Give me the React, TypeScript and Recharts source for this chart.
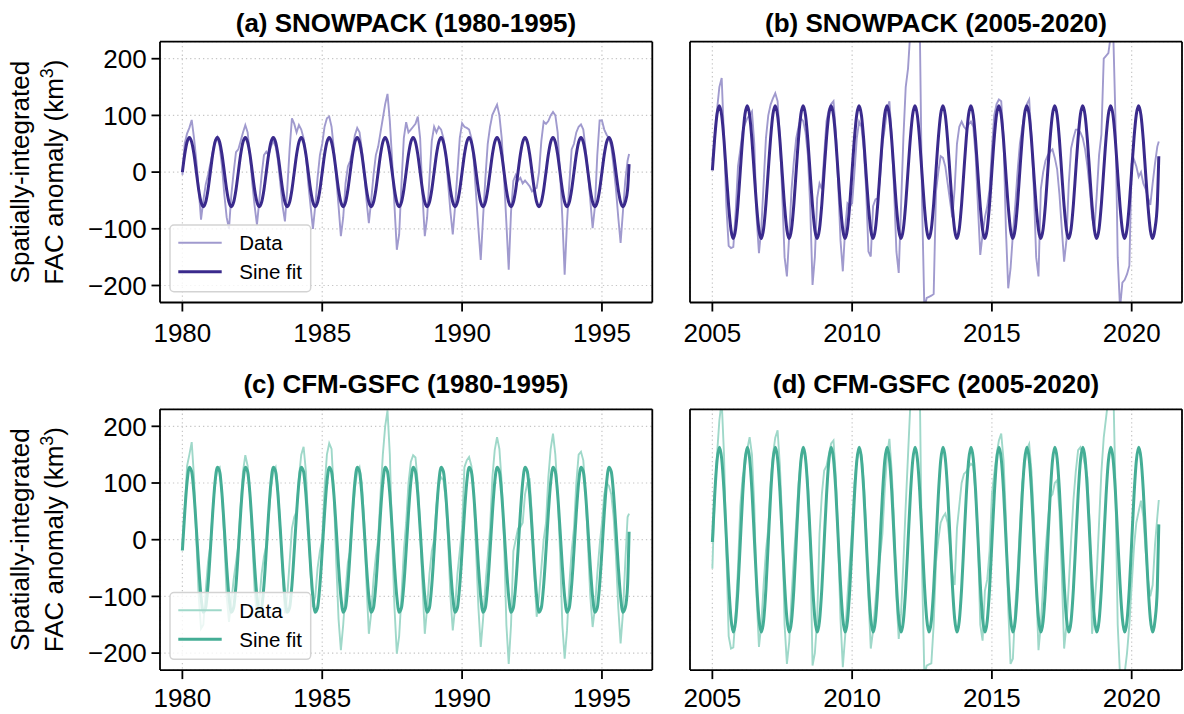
import { CartesianGrid, Line, LineChart, ReferenceLine, XAxis, YAxis } from "recharts";

const FONT = '"Liberation Sans", Arial, Helvetica, sans-serif';

const yTicks = [-200, -100, 0, 100, 200];
const earlyTicks = [1980, 1985, 1990, 1995];
const lateTicks = [2005, 2010, 2015, 2020];

// monthly FAC anomaly (km3), one row per year
const snowpackEarly = [
  [-5, 50, 68, 78, 92, 60, 20, -30, -84, -50, -22, -5],
  [15, 35, 55, 62, 45, 10, -40, -80, -100, -40, 0, 35],
  [40, 55, 70, 83, 70, 30, -20, -60, -93, -50, -5, 30],
  [36, 30, 45, 55, 45, 20, -20, -60, -87, -30, 40, 95],
  [85, 70, 83, 75, 60, 30, -20, -60, -100, -60, -10, 30],
  [50, 80, 95, 98, 80, 40, -10, -60, -113, -80, -20, 10],
  [20, 40, 65, 78, 70, 40, 0, -50, -90, -50, -5, 30],
  [45, 70, 95, 120, 138, 90, 20, -60, -137, -110, -20, 60],
  [88, 70, 75, 80, 85, 98, 60, -40, -113, -80, -10, 55],
  [80, 70, 80, 75, 60, 30, -20, -70, -110, -60, 0, 60],
  [86, 80, 78, 75, 60, 20, -40, -100, -155, -80, -10, 50],
  [80, 101, 110, 119, 100, 60, -10, -90, -172, -70, -15, -5],
  [-15, -10, -20, -15, -20, -25, -34, -30, -28, 0, 55, 89],
  [85, 90, 100, 106, 100, 70, 0, -80, -181, -90, -20, 40],
  [50, 70, 80, 84, 75, 40, 0, -50, -99, -60, 30, 91],
  [91, 75, 66, 60, 45, 10, -30, -80, -125, -70, -15, 20],
];

const snowpackLate = [
  [20, 60, 110, 150, 166, 60, -60, -130, -134, -132, -70, 10],
  [40, 72, 85, 95, 100, 107, 50, -80, -143, -100, -20, 60],
  [100, 119, 130, 139, 125, 60, -40, -150, -184, -110, -30, 20],
  [60, 80, 95, 90, 70, 30, -60, -199, -150, -46, -20, -30],
  [30, 90, 110, 120, 125, 70, -20, -120, -175, -100, -55, -60],
  [-55, 0, 60, 89, 80, 40, -30, -140, -149, -60, -48, -46],
  [-10, 50, 77, 110, 125, 60, -30, -140, -178, -60, 60, 150],
  [183, 250, 280, 300, 300, 270, -50, -240, -222, -220, -218, -215],
  [-34, 0, 28, 25, 10, -20, -50, -80, -30, 50, 80, 89],
  [80, 75, 84, 89, 80, 30, -60, -146, -110, -80, -60, -30],
  [40, 100, 120, 128, 125, 60, -100, -205, -170, -110, -60, 0],
  [50, 78, 100, 120, 128, 60, -30, -150, -184, -30, 0, 20],
  [30, 36, 40, 25, 5, -40, -100, -158, -120, -20, 42, 60],
  [75, 75, 70, 60, 40, 10, -30, -80, -100, -40, 30, 66],
  [200, 205, 210, 240, 260, 100, -150, -240, -195, -190, -180, -165],
  [15, 22, 10, -8, 0, -20, -30, -45, -58, -20, 15, 45],
];

const cfmEarly = [
  [-10, 50, 130, 150, 172, 110, 0, -100, -157, -150, -90, -40],
  [-10, 50, 100, 125, 128, 80, 0, -100, -145, -110, -70, -40],
  [-10, 60, 120, 149, 130, 80, 0, -90, -140, -110, -60, -30],
  [-10, 40, 90, 120, 128, 90, 20, -60, -130, -100, -40, 20],
  [40, 50, 110, 150, 164, 120, 30, -60, -119, -100, -50, -20],
  [0, 90, 150, 170, 160, 80, -40, -140, -195, -150, -90, -40],
  [-20, 40, 90, 120, 128, 100, 30, -80, -166, -130, -70, -30],
  [0, 80, 150, 200, 228, 150, 0, -120, -201, -170, -100, -20],
  [30, 100, 137, 149, 145, 100, 20, -80, -166, -120, -60, -20],
  [0, 60, 100, 110, 105, 70, 0, -100, -160, -120, -60, -20],
  [20, 128, 140, 146, 130, 80, -20, -120, -189, -140, -80, -30],
  [20, 110, 158, 181, 160, 100, 0, -150, -219, -150, -20, 0],
  [20, 22, 30, 80, 100, 105, 40, -60, -136, -100, -50, 0],
  [30, 110, 160, 187, 150, 80, -20, -150, -210, -160, -80, -20],
  [20, 100, 150, 155, 140, 80, -10, -100, -154, -120, -60, -10],
  [30, 80, 100, 95, 80, 40, -30, -120, -183, -130, -40, 40],
];

const cfmLate = [
  [-51, 80, 150, 210, 245, 150, -20, -170, -192, -190, -130, -50],
  [60, 110, 130, 160, 181, 150, 60, -100, -189, -150, -80, -20],
  [20, 100, 150, 180, 193, 130, 30, -150, -219, -180, -100, -30],
  [30, 100, 140, 158, 146, 100, 0, -222, -200, -140, 10, 80],
  [122, 130, 150, 170, 175, 110, 0, -140, -225, -170, -100, -40],
  [20, 100, 140, 158, 150, 100, 20, -100, -192, -160, -110, -60],
  [-30, 10, 90, 150, 178, 120, 30, -100, -175, -130, -40, 60],
  [150, 240, 280, 300, 300, 280, -50, -240, -222, -220, -218, -150],
  [-40, 0, 30, 40, 46, 30, -10, -60, -80, 20, 60, 100],
  [116, 120, 128, 134, 130, 80, 0, -150, -178, -90, -70, -20],
  [80, 116, 150, 175, 187, 140, 40, -120, -219, -210, -120, -60],
  [20, 100, 130, 160, 169, 120, 40, -80, -195, -150, -80, -20],
  [30, 75, 80, 100, 105, 50, -60, -192, -150, -80, 0, 70],
  [120, 158, 163, 150, 130, 110, 20, -166, -120, -60, 30, 120],
  [180, 215, 250, 280, 290, 100, -150, -240, -240, -235, -200, -150],
  [-80, -13, 30, 50, 69, 40, -20, -70, -100, -80, -10, 40],
];

// one year of the fitted sine, month by month
const snowpackEarlyFit = [0, 31, 53, 61, 53, 31, 0, -31, -53, -61, -53, -31];
const snowpackLateFit = [3, 60, 102, 117, 100, 56, -3, -60, -102, -117, -100, -56];
const cfmEarlyFit = [-19, 47, 101, 128, 120, 80, 19, -47, -101, -128, -120, -80];
const cfmLateFit = [-4, 78, 139, 163, 143, 86, 4, -78, -139, -163, -143, -86];

// last sample of each record: [year, data, fit]
const snowpackEarlyEnd = [1995.97, 32, 14];
const snowpackLateEnd = [2020.97, 54, 28];
const cfmEarlyEnd = [1995.97, 46, 14];
const cfmLateEnd = [2020.97, 70, 27];

function buildRows(firstYear: number, years: number[][], fitCycle: number[], end: number[]) {
  const rows: { t: number; data: number; fit: number }[] = [];
  years.forEach((months, i) => {
    months.forEach((v, m) => {
      rows.push({ t: firstYear + i + m / 12, data: v, fit: fitCycle[m] });
    });
  });
  rows.push({ t: end[0], data: end[1], fit: end[2] });
  return rows;
}

const PURPLE = { data: "#a09ace", fit: "#3a2a8c" };
const TEAL = { data: "#9fd8c9", fit: "#44ad95" };

const PLOT_H = 260.8;
const X_AXIS_H = 40;

const fmtY = (v: number) => (v < 0 ? "\u2212" + Math.abs(v) : String(v));

type PanelProps = {
  rows: { t: number; data: number; fit: number }[];
  domain: [number, number];
  ticks: number[];
  box: { left: number; top: number; w: number; h: number };
  plot: { x: number; y: number; w: number };
  yLabels: boolean;
  labelGap: number;
  colors: { data: string; fit: string };
};

function Panel({ rows, domain, ticks, box, plot, yLabels, labelGap, colors }: PanelProps) {
  const top = plot.y - box.top;
  const yWidth = plot.x - box.left;
  const right = box.left + box.w - (plot.x + plot.w);
  const bottom = box.h - top - PLOT_H - X_AXIS_H;
  const tickStyle = { fill: "#000", fontSize: 26, fontFamily: FONT };
  return (
    <div style={{ position: "absolute", left: box.left, top: box.top }}>
      <LineChart width={box.w} height={box.h} data={rows} margin={{ top, right, bottom, left: 0 }}>
        <CartesianGrid stroke="#c6c6c6" strokeWidth={1.2} strokeDasharray="1.3 3" />
        <XAxis
          type="number"
          dataKey="t"
          domain={domain}
          ticks={ticks}
          allowDataOverflow
          height={X_AXIS_H}
          stroke="#000"
          strokeWidth={1.8}
          tickSize={9}
          tickMargin={labelGap}
          tick={tickStyle}
        />
        <YAxis
          type="number"
          domain={[-230, 230]}
          ticks={yTicks}
          allowDataOverflow
          width={yWidth}
          stroke="#000"
          strokeWidth={1.8}
          tickSize={8.5}
          tickMargin={4.8}
          tickLine={yLabels}
          tick={yLabels ? tickStyle : false}
          tickFormatter={fmtY}
        />
        <Line
          type="linear"
          dataKey="data"
          stroke={colors.data}
          strokeWidth={1.9}
          dot={false}
          activeDot={false}
          isAnimationActive={false}
        />
        <Line
          type="monotone"
          dataKey="fit"
          stroke={colors.fit}
          strokeWidth={3}
          dot={false}
          activeDot={false}
          isAnimationActive={false}
        />
        <ReferenceLine y={230} stroke="#000" strokeWidth={1.8} ifOverflow="visible" />
        <ReferenceLine x={domain[1]} stroke="#000" strokeWidth={1.8} ifOverflow="visible" />
      </LineChart>
    </div>
  );
}

function Legend({ dy, colors }: { dy: number; colors: { data: string; fit: string } }) {
  return (
    <g transform={`translate(0, ${dy})`}>
      <rect x={170} y={225} width={140.7} height={66.7} rx={4} fill="#fff" fillOpacity={0.8} stroke="#d3d3d3" strokeWidth={1.5} />
      <line x1={178.3} x2={221.7} y1={242.7} y2={242.7} stroke={colors.data} strokeWidth={1.9} />
      <text x={239.3} y={242.7} dy="0.36em" fontSize={20.5}>Data</text>
      <line x1={178.3} x2={221.7} y1={271.7} y2={271.7} stroke={colors.fit} strokeWidth={3} />
      <text x={239.3} y={271.7} dy="0.36em" fontSize={20.5}>Sine fit</text>
    </g>
  );
}

function YLabel({ cy }: { cy: number }) {
  return (
    <g>
      <text transform={`translate(29, ${cy}) rotate(-90)`} textAnchor="middle" fontSize={26}>
        Spatially-integrated
      </text>
      <text transform={`translate(62.8, ${cy}) rotate(-90)`} textAnchor="middle" fontSize={26}>
        FAC anomaly (km
        <tspan fontSize={18} dy={-10}>3</tspan>
        <tspan dy={10}>)</tspan>
      </text>
    </g>
  );
}

export default function App() {
  const early: [number, number] = [1979.2, 1996.8];
  const late: [number, number] = [2004.2, 2021.8];
  return (
    <div style={{ position: "absolute", left: 0, top: 0, width: 1184, height: 714, background: "#fff", fontFamily: FONT }}>
      <Panel
        rows={buildRows(1980, snowpackEarly, snowpackEarlyFit, snowpackEarlyEnd)}
        domain={early}
        ticks={earlyTicks}
        box={{ left: 0, top: 0, w: 660, h: 360 }}
        plot={{ x: 160, y: 41.7, w: 492.3 }}
        yLabels
        labelGap={12.5}
        colors={PURPLE}
      />
      <Panel
        rows={buildRows(2005, snowpackLate, snowpackLateFit, snowpackLateEnd)}
        domain={late}
        ticks={lateTicks}
        box={{ left: 660, top: 0, w: 524, h: 360 }}
        plot={{ x: 690, y: 41.7, w: 492 }}
        yLabels={false}
        labelGap={12.5}
        colors={PURPLE}
      />
      <Panel
        rows={buildRows(1980, cfmEarly, cfmEarlyFit, cfmEarlyEnd)}
        domain={early}
        ticks={earlyTicks}
        box={{ left: 0, top: 360, w: 660, h: 354 }}
        plot={{ x: 160, y: 409.3, w: 492.3 }}
        yLabels
        labelGap={9.5}
        colors={TEAL}
      />
      <Panel
        rows={buildRows(2005, cfmLate, cfmLateFit, cfmLateEnd)}
        domain={late}
        ticks={lateTicks}
        box={{ left: 660, top: 360, w: 524, h: 354 }}
        plot={{ x: 690, y: 409.3, w: 492 }}
        yLabels={false}
        labelGap={9.5}
        colors={TEAL}
      />
      <svg width={1184} height={714} style={{ position: "absolute", left: 0, top: 0, pointerEvents: "none" }} fontFamily={FONT}>
        <g fontSize={26} fontWeight="bold" textAnchor="middle">
          <text x={406} y={31.5}>(a) SNOWPACK (1980-1995)</text>
          <text x={936} y={31.5}>(b) SNOWPACK (2005-2020)</text>
          <text x={406} y={393}>(c) CFM-GSFC (1980-1995)</text>
          <text x={936} y={393}>(d) CFM-GSFC (2005-2020)</text>
        </g>
        <YLabel cy={172.1} />
        <YLabel cy={539.6} />
        <Legend dy={0} colors={PURPLE} />
        <Legend dy={367.6} colors={TEAL} />
      </svg>
    </div>
  );
}
